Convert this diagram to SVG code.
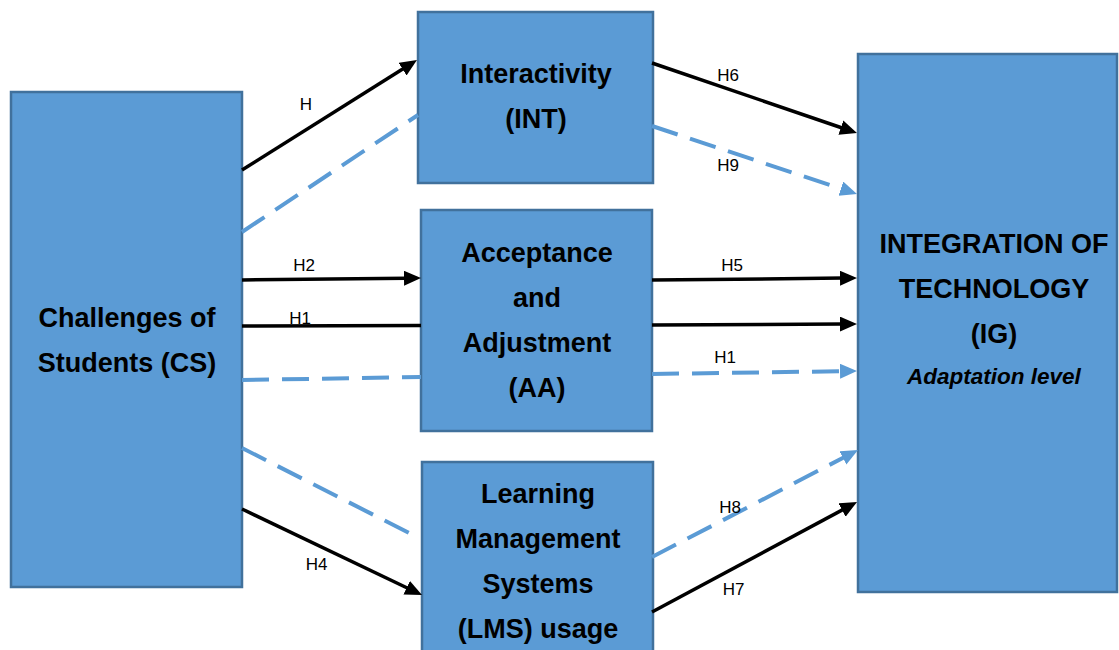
<svg xmlns="http://www.w3.org/2000/svg" width="1119" height="650" viewBox="0 0 1119 650">
<defs>
<style>
.box{fill:#5B9BD5;stroke:#41719C;stroke-width:2.5}
.t{font-family:"Liberation Sans",Arial,sans-serif;font-weight:bold;font-size:27px;fill:#000;text-anchor:middle}
.ti{font-family:"Liberation Sans",Arial,sans-serif;font-weight:bold;font-style:italic;font-size:22.5px;fill:#000;text-anchor:middle}
.lb{font-family:"Liberation Sans",Arial,sans-serif;font-size:17px;fill:#000;text-anchor:middle}
.k{stroke:#000;stroke-width:3.5;fill:none}
.d{stroke:#5B9BD5;stroke-width:4;fill:none;stroke-dasharray:27 13}
</style>
<marker id="ak" markerUnits="userSpaceOnUse" markerWidth="19" markerHeight="17" refX="3" refY="7.5" orient="auto" viewBox="0 0 19 17">
<path d="M0,0 L17,7.5 L0,15 z" fill="#000"/>
</marker>
<marker id="ab" markerUnits="userSpaceOnUse" markerWidth="19" markerHeight="17" refX="3" refY="7.5" orient="auto" viewBox="0 0 19 17">
<path d="M0,0 L17,7.5 L0,15 z" fill="#5B9BD5"/>
</marker>
</defs>
<rect width="1119" height="650" fill="#fff"/>
<g id="node-cs">
<rect class="box" x="11" y="92" width="231" height="495"/>
<text class="t" x="127" y="327">Challenges of</text>
<text class="t" x="127" y="372">Students (CS)</text>
</g>
<g id="node-int">
<rect class="box" x="418" y="12" width="235" height="171"/>
<text class="t" x="536" y="83">Interactivity</text>
<text class="t" x="536" y="128">(INT)</text>
</g>
<g id="node-aa">
<rect class="box" x="421" y="210" width="231" height="221"/>
<text class="t" x="537" y="262">Acceptance</text>
<text class="t" x="537" y="307">and</text>
<text class="t" x="537" y="352">Adjustment</text>
<text class="t" x="537" y="397">(AA)</text>
</g>
<g id="node-lms">
<rect class="box" x="422" y="462" width="231" height="200"/>
<text class="t" x="538" y="503">Learning</text>
<text class="t" x="538" y="548">Management</text>
<text class="t" x="538" y="593">Systems</text>
<text class="t" x="538" y="638">(LMS) usage</text>
</g>
<g id="node-ig">
<rect class="box" x="858" y="54" width="259" height="538"/>
<text class="t" x="994" y="253">INTEGRATION OF</text>
<text class="t" x="994" y="298">TECHNOLOGY</text>
<text class="t" x="994" y="343">(IG)</text>
<text class="ti" x="994" y="384">Adaptation level</text>
</g>
<g id="connectors">
<line class="k" x1="242" y1="170" x2="405.1" y2="67.5" marker-end="url(#ak)"/>
<line class="d" x1="242" y1="232" x2="418" y2="115"/>
<line class="k" x1="652" y1="63" x2="843.7" y2="128.5" marker-end="url(#ak)"/>
<line class="d" x1="652" y1="126" x2="843.7" y2="189.6" marker-end="url(#ab)"/>
<line class="k" x1="242" y1="280" x2="407" y2="278.2" marker-end="url(#ak)"/>
<line class="k" x1="242" y1="326" x2="421" y2="325.5"/>
<line class="d" x1="242" y1="380" x2="421" y2="377"/>
<line class="k" x1="652" y1="280" x2="843" y2="278.1" marker-end="url(#ak)"/>
<line class="k" x1="652" y1="325" x2="843" y2="324.1" marker-end="url(#ak)"/>
<line class="d" x1="652" y1="374" x2="843" y2="371.2" marker-end="url(#ab)"/>
<line class="d" x1="242" y1="448" x2="417" y2="537"/>
<line class="k" x1="242" y1="509" x2="409.4" y2="589" marker-end="url(#ak)"/>
<line class="d" x1="652" y1="557" x2="845.6" y2="456.5" marker-end="url(#ab)"/>
<line class="k" x1="652" y1="612" x2="844.7" y2="508.6" marker-end="url(#ak)"/>
<text class="lb" x="306" y="110">H</text>
<text class="lb" x="728" y="81">H6</text>
<text class="lb" x="728" y="171">H9</text>
<text class="lb" x="304" y="271">H2</text>
<text class="lb" x="300" y="324">H1</text>
<text class="lb" x="732" y="271">H5</text>
<text class="lb" x="725" y="363">H1</text>
<text class="lb" x="316.5" y="570">H4</text>
<text class="lb" x="730" y="513">H8</text>
<text class="lb" x="733.5" y="595">H7</text>
</g>
</svg>
